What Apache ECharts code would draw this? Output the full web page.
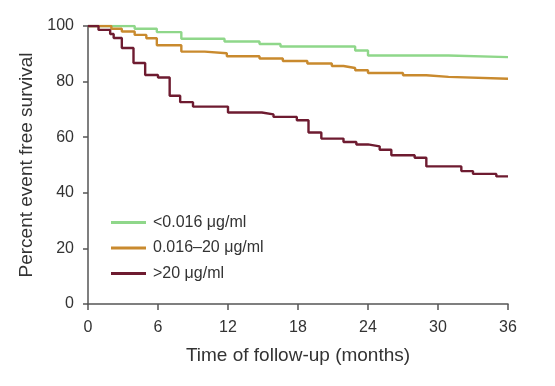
<!DOCTYPE html>
<html>
<head>
<meta charset="utf-8">
<script src="https://cdn.jsdelivr.net/npm/echarts@6/dist/echarts.min.js"></script>
<style>html,body{margin:0;padding:0;background:#fff}#c{width:555px;height:386px}</style>
</head>
<body>
<div id="c"></div>
<script>
const seriesNames = ['<0.016 \u03bcg/ml', '0.016\u201320 \u03bcg/ml', '>20 \u03bcg/ml'];
const xTicks = [0, 6, 12, 18, 24, 30, 36];
const yTicks = [0, 20, 40, 60, 80, 100];
// Step curves: [month, percent]
const lowGroup = [[0,100],[4.0,99],[5.9,97.8],[8.0,95.4],[11.7,94.4],[14.7,93.5],[16.5,92.6],[22.9,91.2],[24.0,89.4],[30.9,88.8],[36,88.8]];
const midGroup = [[0,100],[2.0,99],[2.9,98],[4.0,96.8],[5.0,95.6],[5.9,93.1],[8.0,90.8],[10.0,90.2],[11.9,89.1],[14.7,88.3],[16.7,87.4],[18.8,86.5],[20.9,85.6],[21.9,84.9],[22.9,84.1],[24.0,83.1],[27.0,82.3],[29.0,81.7],[30.9,81.0],[36,81.0]];
const highGroup = [[0,100],[0.9,98.6],[1.9,97.1],[2.2,95.7],[2.9,92.1],[3.9,86.7],[4.9,82.4],[6.0,81.5],[7.0,74.9],[7.9,72.6],[9.0,71.0],[12.0,68.9],[14.9,68.2],[15.9,67.3],[17.9,66.1],[18.9,61.7],[20.0,59.5],[21.9,58.3],[23.0,57.4],[24.0,56.7],[25.0,55.5],[26.0,53.5],[28.0,52.6],[29.0,49.5],[32.0,47.8],[33.0,46.8],[35.0,45.9],[36,45.9]];
const colors = ['#8fd78a', '#c98a2e', '#6e1b30'];

const FONT = '"Liberation Sans", Arial, sans-serif';
const TXT = '#333';
const chart = echarts.init(document.getElementById('c'), null, {renderer: 'canvas'});
const mk = (name, data, color) => ({
  name, type: 'line', step: 'end', data, symbol: 'none',
  lineStyle: {color, width: 2.4}, itemStyle: {color}, animation: false
});
chart.setOption({
  animation: false,
  grid: {left: 88, right: 47, top: 26, bottom: 82, containLabel: false},
  legend: {
    orient: 'vertical', left: 111, top: 214.5, padding: 0,
    icon: 'rect', itemWidth: 35, itemHeight: 3, itemGap: 9.5,
    textStyle: {fontFamily: FONT, fontSize: 16, color: TXT, lineHeight: 16, padding: [0,0,0,2]},
    data: seriesNames
  },
  xAxis: {
    type: 'value', min: 0, max: 36, interval: 6,
    name: 'Time of follow-up (months)', nameLocation: 'middle', nameGap: 42,
    nameTextStyle: {fontFamily: FONT, fontSize: 19, color: TXT},
    axisLine: {show: true, lineStyle: {color: '#555', width: 1.5}},
    axisTick: {show: true, length: 6, lineStyle: {color: '#555', width: 1.5}},
    axisLabel: {fontFamily: FONT, fontSize: 16, color: TXT, margin: 16,
      formatter: v => xTicks.includes(v) ? String(v) : ''},
    splitLine: {show: false}
  },
  yAxis: {
    type: 'value', min: 0, max: 100, interval: 20,
    name: 'Percent event free survival', nameLocation: 'middle', nameGap: 52,
    nameTextStyle: {fontFamily: FONT, fontSize: 19, color: TXT},
    axisLine: {show: true, lineStyle: {color: '#555', width: 1.5}},
    axisTick: {show: true, length: 5, lineStyle: {color: '#555', width: 1.5}},
    axisLabel: {fontFamily: FONT, fontSize: 16, color: TXT, margin: 14,
      formatter: v => yTicks.includes(v) ? String(v) : ''},
    splitLine: {show: false}
  },
  series: [
    mk(seriesNames[0], lowGroup, colors[0]),
    mk(seriesNames[1], midGroup, colors[1]),
    mk(seriesNames[2], highGroup, colors[2])
  ]
});
</script>
</body>
</html>
